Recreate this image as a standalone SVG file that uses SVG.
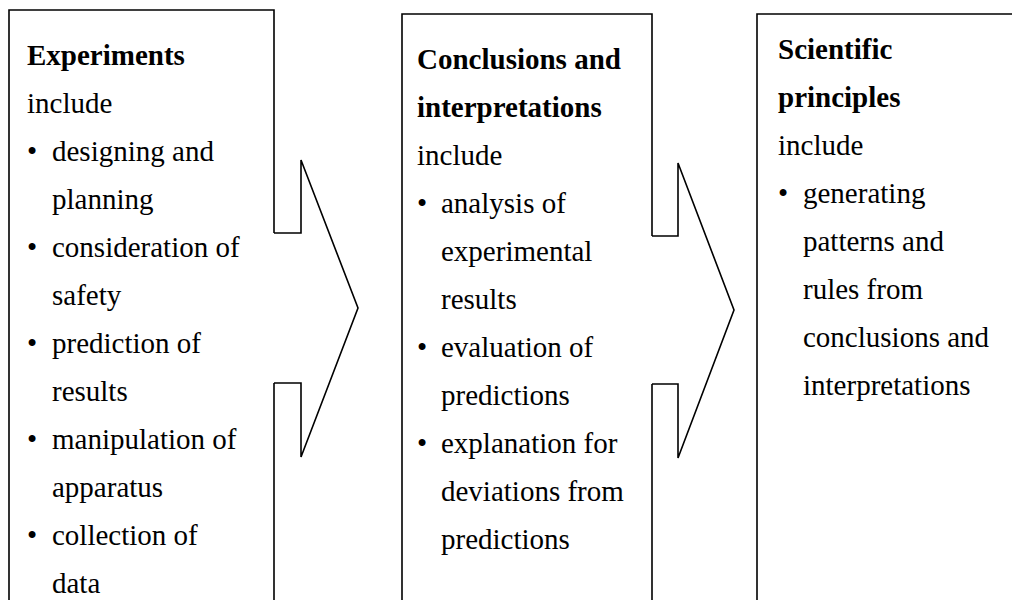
<svg xmlns="http://www.w3.org/2000/svg" width="1012" height="600" viewBox="0 0 1012 600">
<style>
.b{fill:none;stroke:#000;stroke-width:1.6;stroke-linejoin:miter}
text{font-family:"Times New Roman","Liberation Serif",Tinos,"DejaVu Serif",serif;font-size:29px;fill:#000}
.h{font-weight:bold}
</style>
<rect width="1012" height="600" fill="#fff"/>
<g id="node-experiments">
<path class="b" d="M274,233 V10 H9 V612 M274,383 V612"/>
<text class="h" x="27" y="65">Experiments</text>
<text x="27" y="113">include</text>
<text x="27" y="161">•</text><text x="52" y="161">designing and</text>
<text x="52" y="209">planning</text>
<text x="27" y="257">•</text><text x="52" y="257">consideration of</text>
<text x="52" y="305">safety</text>
<text x="27" y="353">•</text><text x="52" y="353">prediction of</text>
<text x="52" y="401">results</text>
<text x="27" y="449">•</text><text x="52" y="449">manipulation of</text>
<text x="52" y="497">apparatus</text>
<text x="27" y="545">•</text><text x="52" y="545">collection of</text>
<text x="52" y="593">data</text>
</g>
<g id="node-conclusions">
<path class="b" d="M652,236 V14 H402 V612 M652,384 V612"/>
<text class="h" x="417" y="69">Conclusions and</text>
<text class="h" x="417" y="117">interpretations</text>
<text x="417" y="165">include</text>
<text x="417" y="213">•</text><text x="441" y="213">analysis of</text>
<text x="441" y="261">experimental</text>
<text x="441" y="309">results</text>
<text x="417" y="357">•</text><text x="441" y="357">evaluation of</text>
<text x="441" y="405">predictions</text>
<text x="417" y="453">•</text><text x="441" y="453">explanation for</text>
<text x="441" y="501">deviations from</text>
<text x="441" y="549">predictions</text>
</g>
<g id="node-principles">
<path class="b" d="M1020,14 H757 V612"/>
<text class="h" x="778" y="59">Scientific</text>
<text class="h" x="778" y="107">principles</text>
<text x="778" y="155">include</text>
<text x="778" y="203">•</text><text x="803" y="203">generating</text>
<text x="803" y="251">patterns and</text>
<text x="803" y="299">rules from</text>
<text x="803" y="347">conclusions and</text>
<text x="803" y="395">interpretations</text>
</g>
<g id="connectors">
<polyline class="b" points="274,233 301,233 301,160 358,308 301,457 301,383 274,383"/>
<polyline class="b" points="652,236 678,236 678,163 734,310 678,458 678,384 652,384"/>
</g>
</svg>
